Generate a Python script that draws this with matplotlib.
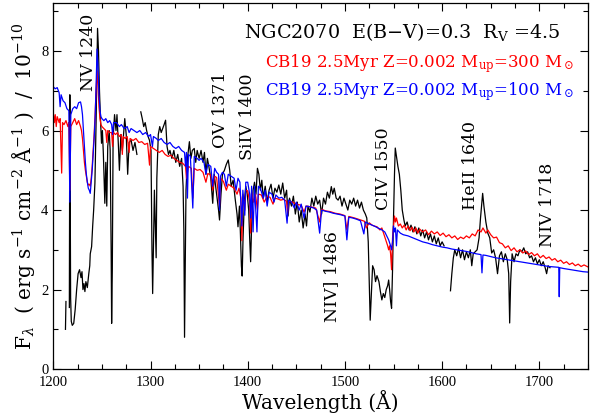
import matplotlib
matplotlib.use("Agg")
import matplotlib.pyplot as plt
from matplotlib.ticker import MultipleLocator

nan = float("nan")

# observed spectrum of NGC2070 (wavelength in A, flux / 1e-10)
obs_wave = [1212.5, 1213, 1214, 1216.5, 1217, 1217.8, 1218.5, 1219.5, 1221, 1222.5, 1224, 1225.5, 1227, 1228.5,
            1229.5, 1230.5, 1231.5, 1232.5, 1233.5, 1235, 1236.5, 1237.5, 1238, 1239.4, 1240.5, 1241.5, 1242.8,
            1244, 1245.5, 1246.5, 1247.5, 1248.5, 1249.6, 1250.5, 1251.5, 1253, 1254, 1255, 1256, 1257.5, 1258.5,
            1259.5, 1260, 1260.7, 1261.5, 1263, 1264.5, 1265.5, 1267, 1268, 1269.5, 1271, 1273.5, 1275, 1276.5,
            1278, 1280, 1282, 1284, 1286, 1288, 1290, 1291.5, 1293, 1294.5, 1296, 1297.5, 1299, 1300.5, 1301.5,
            1302.2, 1303, 1304, 1305, 1305.8, 1306.5, 1308, 1309.5, 1311, 1312.5, 1314, 1315.5, 1317, 1318.5,
            1320, 1322, 1324, 1326, 1328, 1330, 1332, 1333.5, 1334.3, 1335, 1335.8, 1336.5, 1338, 1340, 1341.5,
            1343, 1345, 1346.5, 1348, 1350, 1352, 1354, 1355.5, 1357, 1358.5, 1360, 1362, 1364, 1365.5, 1367,
            1368.5, 1370, 1371, 1372.5, 1374, 1376, 1378, 1380, 1381.5, 1383, 1385, 1387, 1389, 1390, 1391.5,
            1392.5, 1393.5, 1394.3, 1395.2, 1396.5, 1398, 1399.5, 1401, 1402, 1403, 1404, 1405.5, 1407, 1408.5,
            1410, 1411.5, 1413, 1414.5, 1416, 1418, 1420, 1422, 1424, 1426, 1428, 1430, 1432, 1434, 1436, 1438,
            1440, 1441.5, 1443, 1445, 1447, 1449, 1451, 1453, 1455, 1457, 1459, 1460.5, 1462, 1464, 1466, 1468,
            1470, 1472, 1474, 1476, 1478, 1480, 1482, 1484, 1486, 1487.5, 1489, 1491, 1493, 1495, 1497, 1499,
            1501, 1503, 1505, 1507, 1509, 1511, 1513, 1515, 1517, 1519, 1521, 1522.5, 1524, 1525, 1526, 1527,
            1528.5, 1530, 1531.5, 1533, 1535, 1536.5, 1538, 1539.5, 1541, 1542.5, 1544, 1545, 1546, 1547, 1548,
            1549, 1550, 1551, 1551.8, 1553, 1554.5, 1556, 1557.5, 1559, 1560.7, 1562, 1564, 1566, 1568, 1570,
            1572, 1574, 1576, 1578, 1580, 1582, 1584, 1586, 1588, 1590, 1592, 1594, 1596, 1598, 1600, 1602,
            1605, 1608.6, 1610, 1611.5, 1613, 1615, 1617, 1619, 1621, 1623, 1625, 1627, 1629, 1630.5, 1632,
            1634, 1636, 1638, 1639.5, 1641.7, 1643, 1645, 1647, 1649, 1651, 1653, 1655, 1657, 1659, 1661, 1663,
            1665, 1667, 1668.5, 1669.5, 1670.5, 1672, 1674, 1676, 1678, 1680, 1682, 1684, 1686, 1688, 1690,
            1692, 1694, 1696, 1698, 1700, 1702, 1704, 1706, 1707.5, 1709, 1711]
obs_flux = [1.0, 1.7, nan, 1.55, 6.9, 1.8, 1.2, 1.1, 1.15, 1.5, 2.0, 2.4, 2.5, 2.3,
            2.45, 2.0, 2.15, 1.95, 2.2, 2.05, 2.4, 2.6, 2.9, 3.08, 3.6, 4.0, 4.68,
            6.2, 8.57, 8.0, 7.0, 6.3, 5.68, 6.0, 5.4, 4.17, 5.2, 4.1, 5.6, 6.0, 5.5,
            3.0, 1.15, 2.5, 5.8, 6.4, 6.0, 6.4, 5.6, 5.0, 5.9, 5.5, 6.3, 5.9, 4.9,
            5.7, 5.76, 5.5, 5.7, 5.4, nan, 6.47, 6.3, 6.1, 6.2, 6.0, 5.85, 5.75, 5.5, 3.0,
            1.9, 3.0, 4.5, 3.5, 2.8, 4.8, 5.9, 6.1, 5.95, 6.05, 6.15, 6.26, 5.6, 5.4,
            5.5, 5.3, 5.5, 5.2, 5.4, 5.1, 5.3, 4.6, 3.5, 0.8, 2.8, 4.5, 5.3, 5.72, 5.3,
            5.5, 5.55, 5.2, 5.5, 5.3, 5.5, 5.2, 5.45, 4.9, 5.3, 5.1, 4.8, 4.17, 4.9, 4.6,
            4.3, 4.0, 3.75, 4.4, 4.9, 5.0, 5.15, 5.26, 5.0, 4.6, 4.75, 4.3, 3.9, 3.58, 4.1,
            3.4, 2.6, 2.34, 3.3, 4.2, 4.6, 4.4, 4.0, 3.3, 2.7, 3.6, 4.5, 4.7, 4.4,
            5.05, 4.9, 4.5, 4.75, 4.3, 4.6, 4.2, 4.5, 4.65, 4.3, 4.55, 4.45, 4.63, 4.4, 4.68, 4.3,
            4.5, 3.85, 4.3, 4.1, 4.35, 3.9, 4.2, 3.7, 4.0, 3.55, 3.9, 3.6, 4.1, 3.95, 4.3, 4.1,
            4.35, 4.15, 4.25, 3.9, 4.3, 4.15, 4.45, 4.3, 4.59, 4.4, 4.55, 4.3, 4.25, 4.35, 4.1, 4.3,
            4.15, 4.0, 4.25, 4.15, 4.3, 4.1, 4.25, 4.05, 4.2, 4.0, 3.9, 3.8, 3.2, 2.2, 1.23, 1.8,
            2.6, 2.5, 2.2, 2.35, 2.2, 1.95, 1.74, 1.9, 1.8, 2.0, 2.1, 2.24, 2.0, 1.7, 1.53,
            2.5, 3.8, 4.9, 5.56, 5.35, 5.1, 4.9, 4.5, 4.0, 3.75, 3.6, 3.7, 3.5, 3.62, 3.45,
            3.58, 3.4, 3.55, 3.35, 3.5, 3.3, 3.45, 3.25, 3.4, 3.2, 3.35, 3.15, 3.3, 3.1, 3.2, 3.1,
            nan, 1.97, 2.4, 2.79, 3.0, 2.85, 3.05, 2.8, 3.0, 2.75, 2.95, 2.8, 3.0, 2.6, 2.9,
            2.95, 3.0, 3.3, 3.8, 4.42, 4.1, 3.7, 3.42, 3.3, 2.92, 3.0, 2.8, 2.4, 2.85, 2.95, 2.7,
            2.9, 2.75, 2.4, 1.16, 2.2, 2.9, 2.7, 2.9, 2.85, 3.0, 2.95, 3.05, 2.9, 2.95, 2.8,
            2.85, 2.7, 2.8, 2.65, 2.75, 2.6, 2.7, 2.55, 2.4, 2.6, 2.55]

# CB19 model, Mup = 300 Msun (red)
red_wave = [1200, 1201, 1202, 1203, 1204, 1206, 1207, 1208.6, 1209.5, 1211, 1213, 1215, 1216, 1217, 1218,
            1220, 1222, 1224, 1226, 1228, 1229, 1230, 1231, 1232, 1233, 1234, 1235, 1236, 1237, 1238, 1239,
            1240, 1241, 1242, 1243, 1244, 1245, 1246, 1247, 1248, 1249, 1250, 1252, 1254, 1255, 1256, 1258,
            1260, 1261, 1262, 1264, 1266, 1268, 1270, 1271, 1272, 1274, 1276, 1278, 1279, 1282, 1285, 1288,
            1291, 1294, 1297, 1299, 1300, 1303, 1306, 1309, 1312, 1315, 1318, 1321, 1324, 1327, 1330, 1333,
            1336, 1337, 1339, 1342, 1343.5, 1345, 1348, 1351, 1354, 1357, 1359, 1362, 1364, 1366, 1368, 1371,
            1372, 1375, 1378, 1380, 1383, 1386, 1389, 1391, 1393, 1394, 1395, 1397, 1398, 1400, 1402, 1403,
            1404, 1406, 1408, 1410, 1411, 1414, 1417, 1420, 1423, 1426, 1428, 1431, 1434, 1437, 1440, 1441,
            1442, 1446, 1450, 1455, 1458, 1460, 1465, 1470, 1474, 1476, 1480, 1485, 1490, 1495, 1500, 1502,
            1504, 1510, 1515, 1520, 1522, 1525, 1528, 1530, 1533, 1536, 1538, 1540, 1542, 1544, 1545, 1546,
            1547, 1548, 1549, 1550, 1551, 1552, 1553, 1555, 1557, 1559, 1561, 1563, 1565, 1567, 1569, 1571,
            1573, 1575, 1577, 1580, 1583, 1586, 1589, 1592, 1595, 1598, 1601, 1604, 1607, 1610, 1613, 1616,
            1619, 1622, 1625, 1628, 1631, 1634, 1637, 1640, 1642, 1645, 1647, 1650, 1653, 1656, 1659, 1662,
            1665, 1668, 1671, 1674, 1677, 1680, 1683, 1686, 1689, 1692, 1695, 1698, 1701, 1704, 1707, 1710,
            1713, 1716, 1719, 1722, 1725, 1728, 1731, 1734, 1737, 1740, 1743, 1746, 1750]
red_flux = [6.45, 6.2, 6.4, 6.1, 6.35, 6.2, 6.3, 4.93, 6.2, 6.15, 6.25, 6.1, 6.2, 4.5, 6.1,
            6.2, 6.3, 6.15, 6.25, 6.1, 6.0, 5.8, 5.5, 5.2, 5.0, 4.85, 4.7, 4.63, 4.65, 4.6, 4.8,
            5.1, 5.5, 5.9, 6.4, 7.0, 7.5, 7.1, 6.6, 6.3, 6.15, 6.1, 6.05, 6.0, 5.7, 6.0, 5.95,
            5.95, 5.6, 5.95, 5.9, 5.95, 5.85, 5.9, 5.4, 5.85, 5.8, 5.85, 5.45, 5.8, 5.75, 5.8, 5.7,
            5.72, 5.65, 5.68, 5.13, 5.6, 5.55, 5.5, 5.45, 5.5, 5.4, 5.35, 5.38, 5.3, 5.25, 5.2, 5.18,
            5.1, 4.8, 5.1, 5.05, 4.3, 5.05, 5.0, 5.02, 4.95, 4.7, 4.92, 4.88, 4.5, 4.85, 4.82, 4.1,
            4.8, 4.72, 4.5, 4.65, 4.6, 4.55, 4.4, 4.55, 4.3, 3.23, 4.4, 4.0, 4.5, 4.48, 4.2, 3.42,
            4.45, 4.2, 4.4, 4.0, 4.4, 4.38, 4.2, 4.35, 4.32, 4.15, 4.3, 4.28, 4.25, 4.27, 4.22, 3.9,
            4.22, 4.2, 4.15, 4.12, 3.95, 4.1, 4.08, 4.05, 3.7, 4.02, 3.98, 3.96, 3.92, 3.9, 3.86, 3.5,
            3.84, 3.8, 3.76, 3.72, 3.55, 3.68, 3.62, 3.6, 3.58, 3.5, 3.55, 3.4, 3.25, 3.1, 3.0, 3.1,
            2.9, 2.5, 3.3, 3.6, 3.85, 3.7, 3.8, 3.6, 3.65, 3.55, 3.62, 3.5, 3.6, 3.48, 3.57, 3.45,
            3.55, 3.42, 3.52, 3.45, 3.5, 3.38, 3.47, 3.4, 3.45, 3.36, 3.42, 3.33, 3.38, 3.3, 3.35, 3.26,
            3.32, 3.28, 3.35, 3.3, 3.4, 3.35, 3.5, 3.45, 3.55, 3.42, 3.5, 3.38, 3.3, 3.32, 3.18, 3.15,
            3.05, 3.1, 2.98, 3.05, 2.95, 3.0, 2.92, 2.97, 2.88, 2.93, 2.85, 2.9, 2.8, 2.86, 2.78, 2.82,
            2.74, 2.78, 2.7, 2.74, 2.66, 2.7, 2.63, 2.67, 2.6, 2.64, 2.58, 2.62, 2.57]

# CB19 model, Mup = 100 Msun (blue)
blue_wave = [1200, 1202, 1204, 1206, 1207, 1208, 1210, 1212, 1214, 1216, 1217, 1218, 1220, 1222, 1224,
             1226, 1228, 1229, 1230, 1231, 1232, 1233, 1234, 1235, 1236, 1237, 1238, 1239, 1240, 1241, 1242,
             1243, 1244, 1245, 1246, 1247, 1248, 1249, 1250, 1252, 1254, 1256, 1258, 1260, 1261, 1262, 1265,
             1268, 1270, 1273, 1276, 1278, 1280, 1283, 1286, 1289, 1292, 1295, 1298, 1300, 1302, 1303, 1306,
             1308, 1311, 1314, 1317, 1320, 1323, 1326, 1329, 1332, 1335, 1336, 1337, 1338, 1339, 1341, 1343.5,
             1345, 1348, 1350, 1352, 1355, 1357, 1359, 1362, 1364, 1366, 1368, 1370, 1371, 1372, 1374, 1376,
             1378, 1380, 1383, 1386, 1388, 1390, 1392, 1394, 1395, 1397, 1398, 1400, 1402, 1403, 1404, 1405.5,
             1407, 1409.5, 1411, 1413, 1416, 1418, 1420, 1422, 1425, 1427, 1429, 1432, 1435, 1438, 1440.5, 1442,
             1445, 1448, 1450, 1453, 1455, 1458, 1460, 1464, 1468, 1471, 1474, 1476, 1480, 1484, 1488, 1492,
             1496, 1500, 1502, 1504, 1508, 1512, 1516, 1519.5, 1521, 1525, 1530, 1534, 1538, 1541, 1543, 1545,
             1547, 1548, 1549, 1550, 1551, 1552, 1553, 1554, 1557, 1560, 1565, 1570, 1575, 1580, 1585, 1590,
             1595, 1600, 1605, 1610, 1615, 1620, 1625, 1630, 1635, 1640, 1641, 1642, 1645, 1650, 1655, 1660,
             1665, 1670, 1675, 1680, 1685, 1690, 1695, 1700, 1705, 1710, 1715, 1720, 1720.5, 1721, 1725, 1730,
             1735, 1740, 1745, 1750]
blue_flux = [7.1, 7.05, 7.08, 6.95, 6.6, 6.9, 6.75, 6.7, 6.55, 6.5, 4.2, 6.4, 6.55, 6.6, 6.55,
             6.7, 6.72, 6.6, 6.4, 6.0, 5.6, 5.2, 4.9, 4.7, 4.55, 4.5, 4.42, 4.7, 5.0, 5.4, 5.8,
             6.3, 7.1, 8.05, 7.6, 6.9, 6.5, 6.35, 6.3, 6.25, 6.3, 6.2, 6.25, 6.15, 5.9, 6.2, 6.2,
             6.1, 6.15, 6.05, 6.1, 5.95, 6.05, 6.0, 5.95, 6.0, 5.9, 5.95, 5.85, 5.9, 5.6, 5.85, 5.8,
             5.75, 5.8, 5.7, 5.65, 5.7, 5.6, 5.55, 5.6, 5.5, 5.45, 5.1, 5.45, 4.3, 5.4, 5.35, 4.05,
             5.35, 5.3, 5.25, 5.3, 5.2, 4.9, 5.15, 5.1, 4.6, 5.05, 4.95, 4.9, 4.0, 4.85, 4.95, 4.9,
             4.6, 4.9, 4.85, 4.8, 4.5, 4.8, 4.7, 3.6, 4.5, 3.87, 4.7, 4.7, 4.4, 3.8, 4.6, 3.45,
             4.6, 3.45, 4.6, 4.55, 4.3, 4.5, 4.1, 4.45, 4.4, 4.2, 4.38, 4.3, 4.32, 4.25, 3.67, 4.25,
             4.2, 4.05, 4.2, 4.0, 4.15, 3.8, 4.1, 4.08, 4.05, 4.0, 3.42, 4.0, 3.97, 3.95, 3.92, 3.9,
             3.88, 3.85, 3.25, 3.82, 3.8, 3.77, 3.73, 3.4, 3.7, 3.65, 3.6, 3.55, 3.5, 3.45, 3.35, 3.25,
             3.1, 3.0, 3.2, 3.6, 3.45, 3.55, 3.1, 3.5, 3.42, 3.38, 3.35, 3.3, 3.25, 3.2, 3.17, 3.13,
             3.1, 3.07, 3.05, 3.02, 3.0, 2.98, 2.96, 2.93, 2.9, 2.88, 2.42, 2.87, 2.86, 2.83, 2.8, 2.78,
             2.76, 2.74, 2.72, 2.7, 2.68, 2.66, 2.64, 2.62, 2.6, 2.58, 2.57, 2.56, 1.82, 2.55, 2.53, 2.51,
             2.49, 2.47, 2.45, 2.44]

# line identifications: label, x centre, y of the lower end
line_names = ["NV 1240", "OV 1371", "SiIV 1400", "NIV] 1486", "CIV 1550", "HeII 1640", "NIV 1718"]
line_x = [1236, 1372, 1400, 1486, 1540, 1629, 1708]
line_y = [7.0, 5.56, 5.26, 1.18, 4.0, 4.0, 3.07]

plt.rcParams["font.family"] = ["DejaVu Serif"]
plt.rcParams["mathtext.fontset"] = "dejavuserif"

fig = plt.figure(figsize=(5.95, 4.18), dpi=100)
ax = fig.add_axes([0.0896, 0.117, 0.8985, 0.876])

ax.plot(obs_wave, obs_flux, color="black", lw=0.9)
ax.plot(red_wave, red_flux, color="red", lw=0.9)
ax.plot(blue_wave, blue_flux, color="blue", lw=0.9)

for name, x, y in zip(line_names, line_x, line_y):
    ax.text(x, y, name, rotation=90, ha="center", va="bottom", fontsize=12.5)

ax.text(1722, 8.33, "NGC2070  E(B\u2212V)=0.3  R$_\\mathrm{V}$ =4.5", ha="right", va="baseline", fontsize=13.8)
ax.text(1736, 7.6, "CB19 2.5Myr Z=0.002 M$_\\mathrm{up}$=300 M$_\\odot$", ha="right", va="baseline",
        fontsize=12, color="red")
ax.text(1736, 6.89, "CB19 2.5Myr Z=0.002 M$_\\mathrm{up}$=100 M$_\\odot$", ha="right", va="baseline",
        fontsize=12, color="blue")

ax.set_xlim(1200, 1750)
ax.set_ylim(0, 9.21)
ax.xaxis.set_major_locator(MultipleLocator(100))
ax.xaxis.set_minor_locator(MultipleLocator(25))
ax.yaxis.set_major_locator(MultipleLocator(2))
ax.yaxis.set_minor_locator(MultipleLocator(1))
ax.tick_params(which="both", direction="in", top=True, right=True, width=0.8)
ax.tick_params(which="major", length=6)
ax.tick_params(which="minor", length=3.5)
ax.tick_params(axis="x", pad=5)
for lab in ax.get_xticklabels() + ax.get_yticklabels():
    lab.set_fontfamily("Liberation Serif")
    lab.set_fontsize(10.5)
for s in ax.spines.values():
    s.set_linewidth(0.9)

ax.set_xlabel("Wavelength (\u00c5)", fontsize=14.5, labelpad=1)
ax.set_ylabel("F$_\\lambda$  ( erg s$^{-1}$ cm$^{-2}$ \u00c5$^{-1}$ )  /  10$^{-10}$", fontsize=14.5,
              labelpad=3)

fig.savefig("out.png", dpi=100)
